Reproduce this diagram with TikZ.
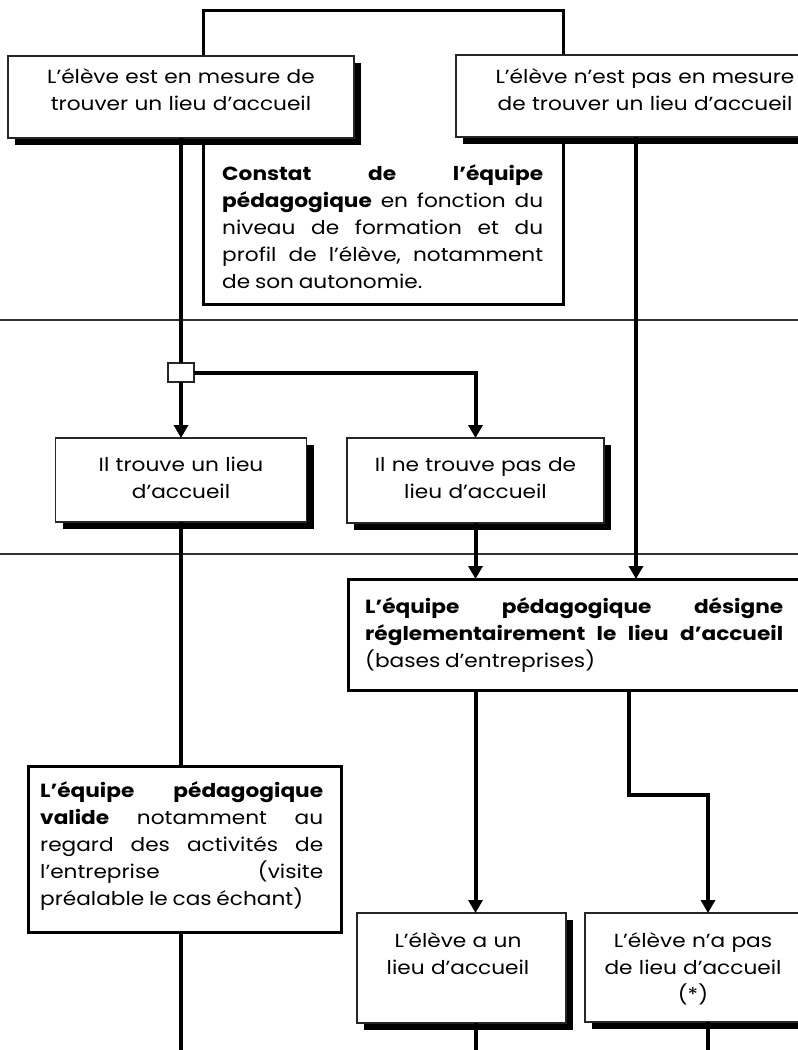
\documentclass[tikz,border=0pt]{standalone}
\usepackage{fontspec}
\setmainfont{Poppins}[FakeStretch=1.14]
\usetikzlibrary{arrows.meta,shadows}

% text setting used inside every box
\newcommand\boxfont{\fontsize{19}{27}\selectfont
  \tolerance=10000 \hbadness=10000
  \spaceskip=0.25em plus 3em\relax\frenchspacing}

\begin{document}
\begin{tikzpicture}[
  x=1pt, y=-1pt,
  frame/.style={draw=black!85, line width=1.2pt, fill=white,
    inner sep=0pt, outer sep=0pt},
  shadowed/.style={frame, drop shadow={shadow xshift=7pt,
    shadow yshift=-7pt, fill=black, opacity=1}},
  heavy/.style={draw=black, line width=3pt, fill=white,
    inner sep=0pt, outer sep=0pt},
  txt/.style={inner sep=0pt, font=\boxfont, anchor=base},
  ctxt/.style={txt, align=center},
  jtxt/.style={txt, anchor=base west, align=justify},
  conn/.style={line width=4pt, draw=black},
  arr/.style={conn, -{Triangle[width=14pt,length=13pt]}},
  divider/.style={line width=1.4pt, draw=black!80}
]
\useasboundingbox (0,0) rectangle (798,1050);
\fill[white] (0,0) rectangle (798,1050);

% phase dividers across the page
\coordinate (floor) at (0,1050);
\draw[divider] (0,320) -- (798,320);
\draw[divider] (0,554) -- (798,554);

% boxes
\node[heavy, minimum width=360pt, minimum height=294pt] (constat) at (383,157) {};
\node[shadowed, minimum width=346pt, minimum height=82pt] (box1) at (181,97) {};
\node[shadowed, minimum width=378pt, minimum height=82pt] (box2) at (645,96) {};
\node[frame, minimum width=26pt, minimum height=19pt] (junc) at (181,372.5) {};
\node[shadowed, minimum width=251pt, minimum height=84pt] (trouve) at (181,480) {};
\node[shadowed, minimum width=257pt, minimum height=85pt] (netrouve) at (475.5,480.5) {};
\node[heavy, minimum width=453pt, minimum height=111pt] (design) at (574.5,634.5) {};
\node[heavy, minimum width=313pt, minimum height=166pt] (valide) at (184.5,849) {};
\node[shadowed, minimum width=209pt, minimum height=110pt] (aun) at (461.5,968) {};
\node[shadowed, minimum width=216pt, minimum height=109pt] (napas) at (693,967.5) {};

% connectors
\coordinate (b2out) at ([xshift=-9pt]box2.south);
\coordinate (dsA) at ([xshift=54.5pt]design.south);
\coordinate (npin) at ([xshift=15pt]napas.north);
\coordinate (npout) at ([xshift=15pt]napas.south);

\draw[conn] (box1.south) -- (junc.north);
\draw[arr] (junc.south) -- (trouve.north);
\draw[arr] (junc.east) -| (netrouve.north);
\draw[arr] (netrouve.south) -- (netrouve.south |- design.north);
\draw[arr] (b2out) -- (b2out |- design.north);
\draw[conn] (trouve.south) -- (valide.north -| trouve.south);
\draw[conn] (valide.south -| trouve.south) -- (trouve.south |- floor);
\draw[arr] (design.south -| netrouve.south) -- (netrouve.south |- aun.north);
\draw[arr] (dsA) -- ++(0,105) -| (npin);
\draw[conn] (aun.south -| netrouve.south) -- (netrouve.south |- floor);
\draw[conn] (npout) -- (npout |- floor);

% texts
\node[ctxt, text width=340pt] (t1) at (181,83)
  {L’élève est en mesure de\\trouver un lieu d’accueil};
\node[ctxt, text width=370pt] (t2) at (645,83)
  {L’élève n’est pas en mesure\\de trouver un lieu d’accueil};
\node[jtxt, text width=321pt] (tconstat) at (222,180)
  {{\bfseries Constat de l’équipe}\linebreak
   {\bfseries pédagogique} en fonction du\linebreak
   niveau de formation et du\linebreak
   profil de l’élève, notamment\linebreak
   de son autonomie.};
\node[ctxt, text width=240pt] (t3) at (181,471)
  {Il trouve un lieu\\d’accueil};
\node[ctxt, text width=250pt] (t4) at (475.5,471)
  {Il ne trouve pas de\\lieu d’accueil};
\node[jtxt, text width=418pt] (tdesign) at (365,613)
  {{\bfseries L’équipe pédagogique désigne\linebreak
   réglementairement le lieu d’accueil}\linebreak
   (bases d’entreprises)};
\node[jtxt, text width=283pt] (tvalide) at (40,797)
  {{\bfseries L’équipe pédagogique\linebreak
   valide} notamment au\linebreak
   regard des activités de\linebreak
   l'entreprise (visite\linebreak
   préalable le cas échant)};
\node[ctxt, text width=200pt] (t5) at (458,947)
  {L’élève a un\\lieu d’accueil};
\node[ctxt, text width=210pt] (t6) at (693,947)
  {L’élève n’a pas\\de lieu d’accueil\\(*)};
\end{tikzpicture}
\end{document}
